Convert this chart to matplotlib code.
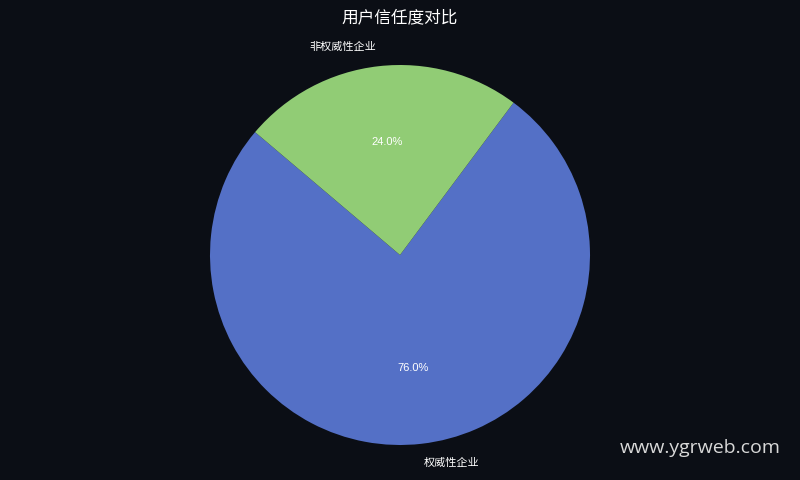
import matplotlib
matplotlib.use("Agg")
import matplotlib.pyplot as plt

plt.rcParams['font.family'] = ['Noto Sans CJK SC', 'DejaVu Sans']

labels = ['权威性企业', '非权威性企业']
values = [76.0, 24.0]
colors = ['#5470c6', '#91cc75']
bg = '#0b0e15'

fig = plt.figure(figsize=(8, 4.8), dpi=100, facecolor=bg)
ax = fig.add_axes([0, 0, 1, 1])
ax.set_facecolor(bg)

# pie centre at (400, 255) px, radius 190 px
r = 190.0
wedges, texts, autotexts = ax.pie(values, labels=labels, colors=colors,
                                  startangle=139.7, counterclock=True,
                                  autopct='%1.1f%%', pctdistance=0.6,
                                  labeldistance=1.1,
                                  textprops={'color': 'white', 'fontsize': 8})
for t in autotexts:
    t.set_family(['Liberation Sans', 'DejaVu Sans'])
ax.set_aspect('auto')
ax.set_xlim(-400 / r, 400 / r)
ax.set_ylim(-(480 - 255) / r, 255 / r)
ax.axis('off')

fig.text(0.5, 1 - 18 / 480, '用户信任度对比', color='white', fontsize=12,
         ha='center', va='center')
fig.text(1 - 19 / 800, 1 - 448 / 480, 'www.ygrweb.com', color='#d8d8d8',
         fontsize=14, ha='right', va='center', family=['Open Sans', 'DejaVu Sans'])

fig.savefig('out.png', dpi=100, facecolor=bg)
